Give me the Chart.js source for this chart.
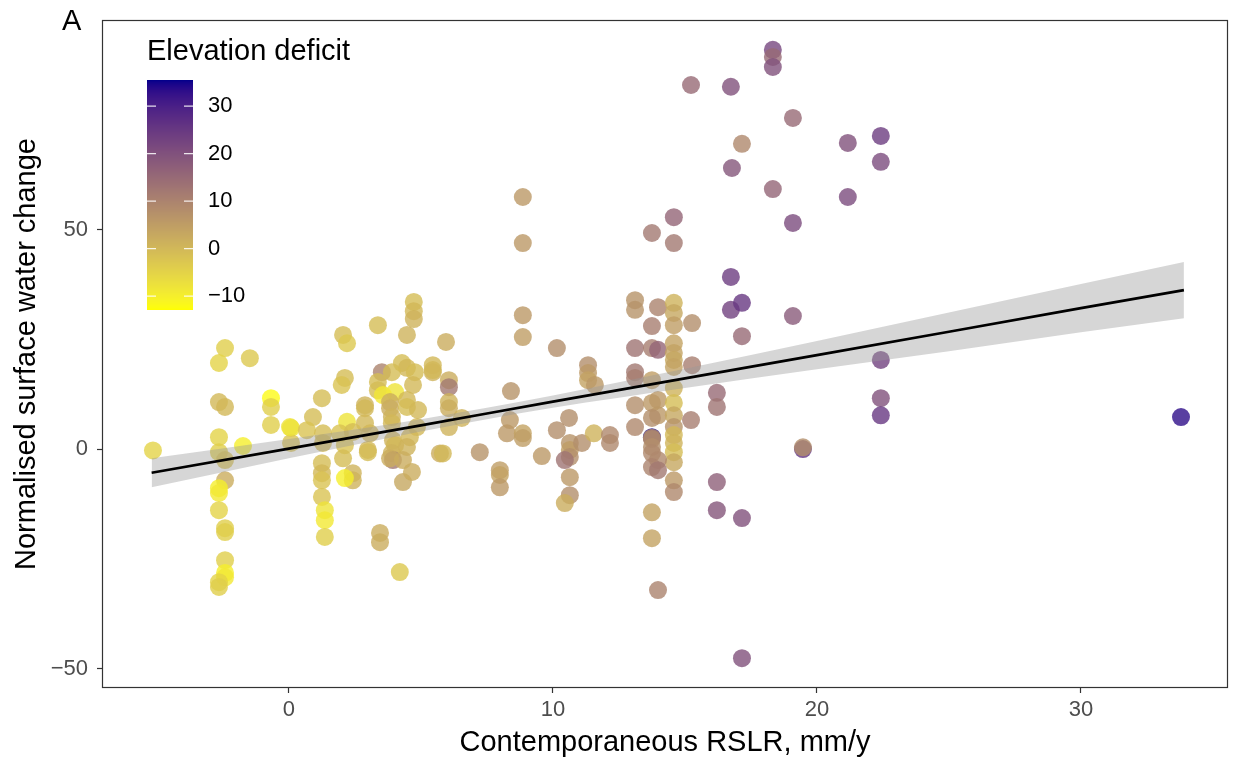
<!DOCTYPE html>
<html><head><meta charset="utf-8">
<script src="https://cdn.jsdelivr.net/npm/chart.js@4.4.1/dist/chart.umd.min.js"></script>
<style>html,body{margin:0;padding:0;background:#fff;}#wrap{width:1234px;height:763px;position:relative;}</style>
</head><body><div id="wrap"><canvas id="c" width="1234" height="763"></canvas></div>
<script>
// ---- data ----
const rslr = [13.75,
 -5.15,-2.42,-2.65,-1.48,-2.65,-2.42,-0.68,-0.68,-0.68,0.08,0.08,-2.65,-1.74,-2.65,-2.42,-2.42,-2.65,-2.65,-2.65,-2.42,-2.42,-2.42,-2.42,-2.42,-2.65,-2.65,
 4.73,4.73,4.73,3.37,2.05,2.2,4.47,5.45,5.45,4.28,4.47,3.52,3.9,4.77,2.12,2.0,3.37,3.37,4.7,4.02,3.56,1.25,2.88,2.88,3.83,3.83,4.47,4.47,4.89,0.91,2.2,2.88,3.9,3.9,4.85,0.04,0.68,1.29,1.93,2.42,3.07,3.94,4.58,1.29,2.12,2.99,4.02,3.9,4.47,3.94,3.83,4.32,1.25,1.25,1.25,1.25,1.36,1.36,1.36,2.05,2.42,2.42,2.12,2.99,3.45,3.45,4.2,4.32,4.66,5.72,
 5.95,5.45,6.06,6.06,6.06,6.06,6.06,6.55,5.83,8.86,8.86,8.86,8.86,10.15,8.41,8.37,8.26,8.86,8.86,7.23,7.99,7.99,7.99,9.58,10.15,10.61,10.64,10.64,10.64,10.45,10.64,10.64,10.45,11.1,11.33,11.33,11.33,11.59,11.55,12.16,12.16,
 13.75,13.75,13.11,13.11,13.98,14.58,14.58,14.58,15.27,13.75,14.58,14.58,13.75,13.11,13.75,13.98,13.11,13.11,14.58,14.58,14.58,14.58,15.27,13.75,13.11,13.75,13.98,14.58,14.58,13.98,13.75,14.58,14.58,15.23,13.11,14.58,14.58,14.58,14.58,13.75,13.75,13.98,13.75,13.98,14.58,14.58,13.75,13.75,13.98,
 16.21,16.21,16.21,16.21,17.16,17.16,16.78,16.74,15.23,18.33,18.33,18.33,19.09,17.16,21.17,22.42,22.42,18.33,21.17,19.09,16.74,16.74,17.16,19.09,17.16,22.42,22.42,22.42,19.47,19.47,33.79];
const swc = [2.7,
 -0.3,23.0,19.6,20.7,10.7,9.6,11.6,9.6,5.5,4.8,1.4,2.7,0.7,-0.7,-2.5,-7.1,-8.9,-10.0,-13.9,-18.0,-18.9,-25.3,-28.2,-29.2,-30.3,-31.4,
 33.5,31.4,29.6,28.2,26.0,24.1,26.0,19.1,17.5,19.6,18.5,17.5,17.5,17.5,16.2,14.6,15.3,13.4,14.6,13.0,12.3,11.6,10.0,9.3,10.7,9.3,11.2,9.6,8.9,7.3,6.2,5.9,7.3,5.9,5.0,5.0,4.3,3.6,3.6,3.9,3.6,2.0,2.7,1.4,0.9,-0.2,0.9,-0.9,0.5,-2.5,-2.1,-2.5,-3.2,-5.5,-7.1,-10.9,-13.9,-16.2,-20.0,-2.1,-5.5,-7.1,-6.6,-0.7,-19.1,-21.2,-28.0,-7.5,-5.2,-1.0,
 24.4,18.0,15.7,14.1,10.7,9.3,5.0,7.1,-1.0,57.4,46.9,30.5,25.5,23.0,13.2,6.6,3.6,3.6,2.5,-0.7,-4.8,-5.9,-8.7,-1.6,4.3,7.1,1.4,-0.2,-1.8,-2.5,-6.4,-10.5,-12.3,1.4,19.1,17.3,15.7,14.6,3.6,3.2,1.4,
 2.6,2.3,33.9,31.7,32.3,33.3,31.0,28.2,28.7,49.2,52.8,46.9,28.0,23.0,23.0,22.6,17.5,16.2,24.1,21.9,20.3,18.7,19.1,15.7,10.0,10.5,11.2,13.9,10.5,7.7,7.1,7.7,5.0,6.6,5.0,3.2,1.4,-0.7,-3.0,0.5,-0.9,-2.5,-4.1,-4.8,-7.1,-9.8,-14.4,-20.3,-32.1,
 12.8,9.6,-7.5,-13.9,-15.7,-47.6,64.0,82.5,82.9,90.9,89.3,87.0,75.4,69.5,69.7,71.3,65.4,59.2,57.4,51.5,39.2,31.7,33.3,30.3,25.7,20.3,11.6,7.7,0.0,0.4,7.3];
const deficit = [35,
 -5,-4,-5,-3,0,0,-12,-4,-4,-8,-2,-5,-10,-4,-2,2,-10,-9,-5,-4,-4,-4,-10,-9,-5,-4,
 -1,0,1,-1,-1,-3,1,0,1,-1,0,10,-1,-1,-1,-2,-1,-1,0,-8,-9,-1,1,0,2,2,0,-1,0,-1,-8,0,1,0,0,-8,-2,-1,-2,-1,0,1,0,-1,-2,0,0,1,1,12,2,2,-1,0,-2,-2,-8,-9,-4,-1,1,1,-10,-1,2,2,-3,3,2,2,
 2,0,2,12,1,2,1,1,0,6,6,6,5,8,7,6,6,4,5,7,5,4,6,6,8,8,7,5,8,13,6,8,2,8,8,6,4,6,1,9,9,
 9,9,7,7,10,1,3,5,8,12,16,12,11,13,11,16,12,11,4,4,3,4,11,5,8,6,6,1,-1,6,8,3,7,11,9,0,1,-1,3,8,9,9,10,12,6,9,4,4,10,
 15,13,17,19,20,20,19,20,15,22,15,20,15,9,20,24,21,16,21,21,24,23,25,18,15,23,20,25,26,8,33];
// fitted line with confidence band
const fitX     = [-5.2, 0, 5, 7.5, 10, 15, 20, 25, 30, 33.9];
const fitY     = [-5.4, 0.1, 5.4, 8.1, 10.8, 16.1, 21.4, 26.7, 32.1, 36.2];
const fitLower = [-8.7, -2.1, 4.0, 6.8, 9.4, 13.9, 18.2, 22.3, 26.6, 29.8];
const fitUpper = [-2.1, 2.3, 6.8, 9.4, 12.2, 18.3, 24.6, 31.1, 37.6, 42.6];
const xTicks = [0, 10, 20, 30];
const yTicks = [-50, 0, 50];
const legendTicks = [-10, 0, 10, 20, 30];
const legendLimits = [-12.9, 35.5];
const legendTitle = 'Elevation deficit';
const panelLabel = 'A';

// ---- colour scale (Lab interpolation, like ggplot's gradient) ----
const LOW = [255,255,0], HIGH = [0,0,139];
function toLin(c){c/=255;return c<=0.04045?c/12.92:Math.pow((c+0.055)/1.055,2.4);}
function fromLin(c){const v=c<=0.0031308?12.92*c:1.055*Math.pow(c,1/2.4)-0.055;return Math.max(0,Math.min(255,Math.round(v*255)));}
function rgb2lab(rgb){const [r,g,b]=rgb.map(toLin);
 let X=(0.4124*r+0.3576*g+0.1805*b)/0.95047,Y=(0.2126*r+0.7152*g+0.0722*b),Z=(0.0193*r+0.1192*g+0.9505*b)/1.08883;
 const f=t=>t>0.008856?Math.cbrt(t):7.787*t+16/116;const fx=f(X),fy=f(Y),fz=f(Z);
 return [116*fy-16,500*(fx-fy),200*(fy-fz)];}
function lab2rgb(lab){const fy=(lab[0]+16)/116,fx=fy+lab[1]/500,fz=fy-lab[2]/200;
 const fi=t=>{const t3=t*t*t;return t3>0.008856?t3:(t-16/116)/7.787;};
 const X=fi(fx)*0.95047,Y=fi(fy),Z=fi(fz)*1.08883;
 const r=3.2406*X-1.5372*Y-0.4986*Z,g=-0.9689*X+1.8758*Y+0.0415*Z,b=0.0557*X-0.2040*Y+1.0570*Z;
 return [fromLin(r),fromLin(g),fromLin(b)];}
const LAB_LO=rgb2lab(LOW), LAB_HI=rgb2lab(HIGH);
function colorFor(v,alpha){let t=(v-legendLimits[0])/(legendLimits[1]-legendLimits[0]);t=Math.max(0,Math.min(1,t));
 const lab=LAB_LO.map((c,i)=>c+(LAB_HI[i]-c)*t);const [r,g,b]=lab2rgb(lab);
 return `rgba(${r},${g},${b},${alpha})`;}

const FONT='"Liberation Sans", Arial, Helvetica, sans-serif';
const minus = s => String(s).replace('-', '\u2212');

const pts = rslr.map((x,i)=>({x, y: swc[i]}));
const ptColors = deficit.map(d=>colorFor(d,0.8));

const decor = {
 id:'decor',
 afterDraw(chart){
  const ctx=chart.ctx, a=chart.chartArea;
  ctx.save();
  ctx.strokeStyle='#333333'; ctx.lineWidth=1.2;
  ctx.strokeRect(a.left+0.5,a.top+0.5,a.right-a.left-1,a.bottom-a.top-1);
  // panel label
  ctx.fillStyle='#000'; ctx.font=`29px ${FONT}`; ctx.textBaseline='middle'; ctx.textAlign='left';
  ctx.fillText(panelLabel, 62, 22);
  // legend
  const bx=147, bw=46, top=80, bot=310;
  ctx.font=`29px ${FONT}`; ctx.fillText(legendTitle, 147, 52);
  const [lo,hi]=legendLimits;
  for(let y=top;y<bot;y++){
    const v=hi-(y+0.5-top)/(bot-top)*(hi-lo);
    ctx.fillStyle=colorFor(v,1); ctx.fillRect(bx,y,bw,1);
  }
  ctx.font=`22px ${FONT}`; ctx.fillStyle='#000';
  legendTicks.forEach(t=>{
    const y=bot-(t-lo)/(hi-lo)*(bot-top);
    ctx.strokeStyle='rgba(255,255,255,0.85)'; ctx.lineWidth=1.2;
    ctx.beginPath(); ctx.moveTo(bx,y); ctx.lineTo(bx+9,y); ctx.moveTo(bx+bw-9,y); ctx.lineTo(bx+bw,y); ctx.stroke();
    ctx.fillText(minus(t), 208, y);
  });
  ctx.restore();
 }
};

new Chart(document.getElementById('c'), {
 type:'scatter',
 data:{datasets:[
  {type:'line', label:'fit', data: fitX.map((x,i)=>({x,y:fitY[i]})), borderColor:'#000', borderWidth:2.6, pointRadius:0, fill:false, order:0, tension:0},
  {type:'line', label:'upper', data: fitX.map((x,i)=>({x,y:fitUpper[i]})), borderWidth:0, borderColor:'rgba(0,0,0,0)', pointRadius:0, backgroundColor:'rgba(153,153,153,0.4)', fill:{target:2}, order:1, tension:0.4, cubicInterpolationMode:'monotone'},
  {type:'line', label:'lower', data: fitX.map((x,i)=>({x,y:fitLower[i]})), borderWidth:0, borderColor:'rgba(0,0,0,0)', pointRadius:0, fill:false, order:1, tension:0.4, cubicInterpolationMode:'monotone'},
  {label:'points', data: pts, pointRadius:9, pointHoverRadius:9, pointBorderWidth:0, pointBackgroundColor: ptColors, backgroundColor: ptColors, order:2}
 ]},
 options:{
  responsive:false, animation:false, devicePixelRatio:1,
  layout:{autoPadding:false, padding:{top:20,right:6,left:0,bottom:0}},
  plugins:{legend:{display:false}, tooltip:{enabled:false}},
  scales:{
   x:{type:'linear', min:-7.08, max:35.57,
      afterBuildTicks: s=>{s.ticks=xTicks.map(v=>({value:v}));},
      afterFit: s=>{s.height=75; s.paddingLeft=0; s.paddingRight=0;},
      grid:{drawOnChartArea:false, drawTicks:true, tickLength:5, tickColor:'#333', tickWidth:1.2, color:'#333'},
      border:{display:false},
      ticks:{color:'#4D4D4D', font:{family:FONT,size:22}, padding:4, maxRotation:0, callback:v=>minus(v)},
      title:{display:true, text:'Contemporaneous RSLR, mm/y', color:'#000', font:{family:FONT,size:29}, padding:{top:0,bottom:3}}},
   y:{type:'linear', min:-54.4, max:97.7,
      afterBuildTicks: s=>{s.ticks=yTicks.map(v=>({value:v}));},
      afterFit: s=>{s.width=102; s.paddingTop=0; s.paddingBottom=0;},
      grid:{drawOnChartArea:false, drawTicks:true, tickLength:5, tickColor:'#333', tickWidth:1.2, color:'#333'},
      border:{display:false},
      ticks:{color:'#4D4D4D', font:{family:FONT,size:22}, padding:9, callback:v=>minus(v)},
      title:{display:true, text:'Normalised surface water change', color:'#000', font:{family:FONT,size:29}, padding:{top:10,bottom:0}}}
  }
 },
 plugins:[decor]
});
</script></body></html>
